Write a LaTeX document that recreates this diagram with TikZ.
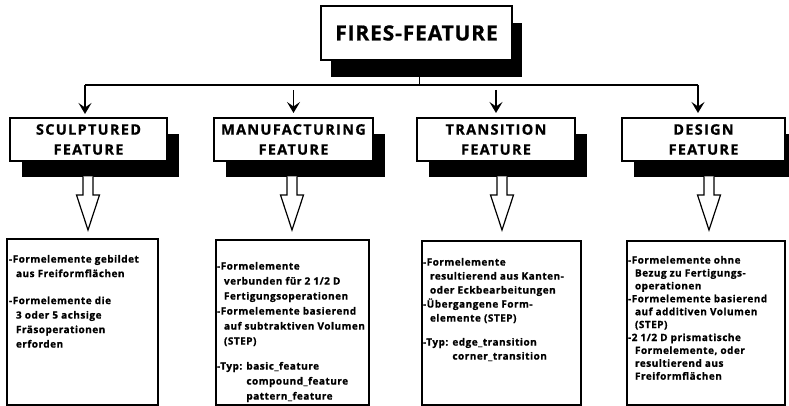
\documentclass[tikz,border=0pt]{standalone}
\usepackage{fontspec}
\setmainfont{Open Sans}
\newfontfamily\titlefont{Open Sans}[LetterSpace=9,FakeBold=0.8]
\newfontfamily\topfont{Open Sans}[LetterSpace=4,FakeBold=0.8]
\newfontfamily\detailfont{Open Sans}[LetterSpace=5,FakeBold=1]
\usetikzlibrary{shadows,arrows.meta,calc}
\newcommand\hollowarrow[2]{%
  \begin{scope}[shift={(#1.south)},xshift=#2]
    \draw[hollow] (-5,15.5) -- (-5,34) -- (-11.5,34) -- (0,69) -- (11.5,34) -- (5,34) -- (5,15.5);
  \end{scope}}
\tikzset{
  featbox/.style={draw, line width=1.6pt, fill=white, align=center, inner sep=0pt, outer sep=0pt,
    minimum height=43pt,
    font=\titlefont\bfseries\fontsize{14.5}{20}\selectfont,
    drop shadow={shadow xshift=12pt, shadow yshift=-16pt, fill=black, opacity=1}},
  topbox/.style={draw, line width=1.6pt, fill=white, inner sep=0pt, outer sep=0pt,
    minimum width=191pt, minimum height=54pt,
    font=\topfont\bfseries\fontsize{21}{25}\selectfont,
    drop shadow={shadow xshift=10pt, shadow yshift=-17pt, fill=black, opacity=1}},
  detailbox/.style={draw, line width=1.4pt, inner sep=0pt, outer sep=0pt, anchor=north west},
  detailtext/.style={anchor=north west, inner sep=0pt, outer sep=0pt, align=left},
  arr/.style={line width=1.6pt, -{Stealth[length=11pt,width=13pt,inset=4.5pt]}},
  bus/.style={line width=1.3pt},
  hollow/.style={line width=1.2pt, fill=white, line join=miter}
}
\begin{document}
\begin{tikzpicture}[x=1pt,y=-1pt]
\useasboundingbox (0,0) rectangle (789,406);

% top box
\node[topbox] (top) at (416.5,33) {FIRES-FEATURE};

% feature boxes
\node[featbox, minimum width=157pt] (sf) at (88.5,139.5) {SCULPTURED\\FEATURE};
\node[featbox, minimum width=159pt] (mf) at (293.5,139.5) {MANUFACTURING\\FEATURE};
\node[featbox, minimum width=158pt] (tf) at (496,139.5) {TRANSITION\\FEATURE};
\node[featbox, minimum width=163pt] (df) at (703.5,139.5) {DESIGN\\FEATURE};

% bus and arrows
\coordinate (bl) at (85,85);
\coordinate (br) at (698,85);
\draw[bus] (bl) -- (br);
\draw[bus] ([xshift=3pt,yshift=-17pt]top.south) -- ([xshift=3pt]top.south |- bl);
\draw[arr, shorten >=4pt] (bl) -- (bl |- sf.north);
\draw[arr, shorten <=5pt, shorten >=5pt] (mf.north |- bl) -- (mf.north);
\draw[arr, shorten <=5pt, shorten >=5pt] (tf.north |- bl) -- (tf.north);
\draw[arr, shorten >=5pt] (br) -- (br |- df.north);

% hollow arrows
\hollowarrow{sf}{-0.5pt}
\hollowarrow{mf}{-1.5pt}
\hollowarrow{tf}{6pt}
\hollowarrow{df}{5.5pt}

% detail boxes
\node[detailbox, minimum width=151pt, minimum height=166pt] (sd) at (7,239) {};
\node[detailbox, minimum width=153pt, minimum height=165pt] (md) at (216,240) {};
\node[detailbox, minimum width=159pt, minimum height=164pt] (td) at (422,241) {};
\node[detailbox, minimum width=158pt, minimum height=164pt] (dd) at (627,241) {};

\node[detailtext, font=\detailfont\bfseries\fontsize{10}{14.5}\selectfont] (st) at ([xshift=2pt,yshift=-16pt]sd.north west)
{-Formelemente gebildet\\
\hspace*{7pt}aus Freiformflächen\\[12.5pt]
-Formelemente die\\
\hspace*{7pt}3 oder 5 achsige\\
\hspace*{7pt}Fräsoperationen\\
\hspace*{7pt}erforden};

\node[detailtext, font=\detailfont\bfseries\fontsize{10}{15}\selectfont] (mt) at ([xshift=1pt,yshift=-22pt]md.north west)
{-Formelemente\\
\hspace*{7pt}verbunden für 2 1/2 D\\
\hspace*{7pt}Fertigungsoperationen\\
-Formelemente basierend\\
\hspace*{7pt}auf subtraktiven Volumen\\
\hspace*{7pt}(STEP)\\[10pt]
-Typ: basic\_feature\\
\hphantom{-Typ: }compound\_feature\\
\hphantom{-Typ: }pattern\_feature};

\node[detailtext, font=\detailfont\bfseries\fontsize{10}{14}\selectfont] (tt) at ([xshift=1pt,yshift=-17pt]td.north west)
{-Formelemente\\
\hspace*{7pt}resultierend aus Kanten-\\
\hspace*{7pt}oder Eckbearbeitungen\\
-Übergangene Form-\\
\hspace*{7pt}elemente (STEP)\\[10pt]
-Typ: edge\_transition\\
\hphantom{-Typ: }corner\_transition};

\node[detailtext, font=\detailfont\bfseries\fontsize{10}{12.9}\selectfont] (dt) at ([xshift=1pt,yshift=-15pt]dd.north west)
{-Formelemente ohne\\
\hspace*{7pt}Bezug zu Fertigungs-\\
\hspace*{7pt}operationen\\
-Formelemente basierend\\
\hspace*{7pt}auf additiven Volumen\\
\hspace*{7pt}(STEP)\\
-2 1/2 D prismatische\\
\hspace*{7pt}Formelemente, oder\\
\hspace*{7pt}resultierend aus\\
\hspace*{7pt}Freiformflächen};
\end{tikzpicture}
\end{document}
